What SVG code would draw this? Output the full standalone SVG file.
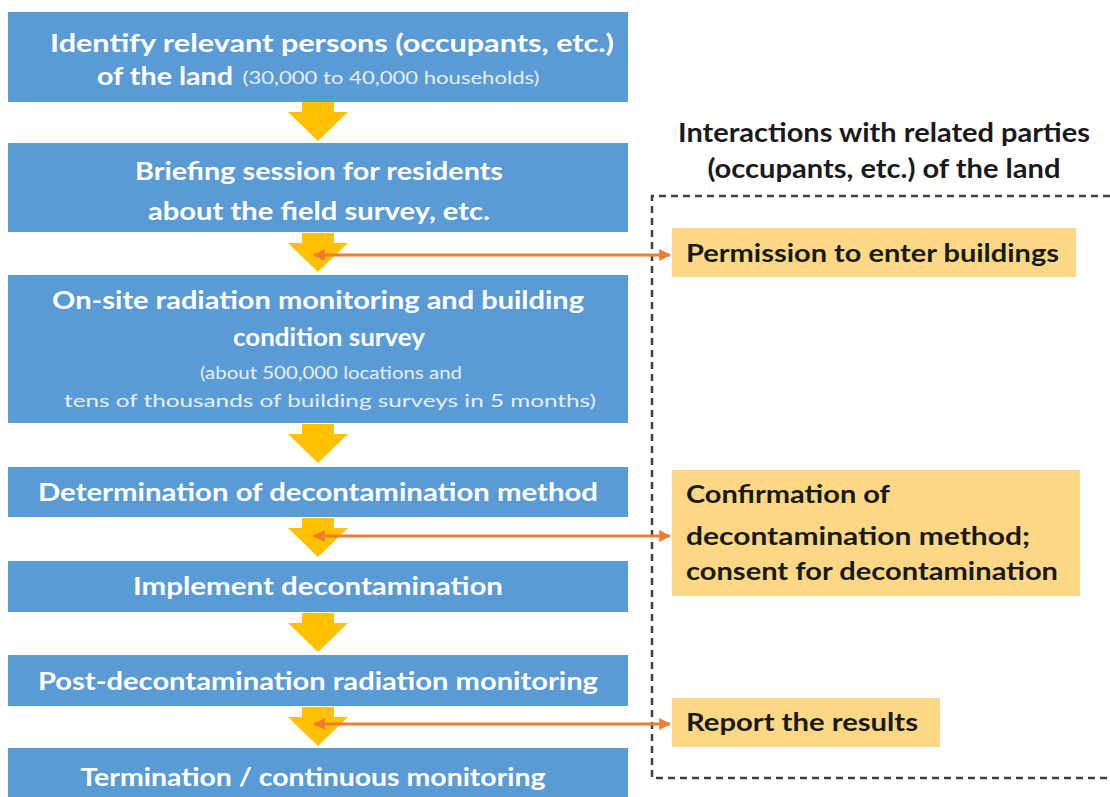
<svg xmlns="http://www.w3.org/2000/svg" width="1110" height="797" viewBox="0 0 1110 797">
  <style>
    .step { fill: #5B9BD5; }
    .step-text { font-family: Lato, "Open Sans", "Liberation Sans", sans-serif; font-weight: bold; font-size: 24px; fill: #FFFFFF; text-anchor: middle; }
    .step-note { font-family: Lato, "Open Sans", "Liberation Sans", sans-serif; font-size: 17px; fill: #E8EEF6; text-anchor: middle; }
    .flow { fill: #FFC000; }
    .party { fill: #FCD886; }
    .party-text { font-family: Lato, "Open Sans", "Liberation Sans", sans-serif; font-weight: bold; font-size: 24px; fill: #1A1A1A; }
    .title { font-family: Lato, "Open Sans", "Liberation Sans", sans-serif; font-weight: bold; font-size: 26px; fill: #1A1A1A; text-anchor: middle; }
    .link { stroke: #ED7D31; stroke-width: 3; fill: none; marker-start: url(#tip); marker-end: url(#tip); }
    .zone { fill: none; stroke: #404040; stroke-width: 2.5; stroke-dasharray: 7 5; }
  </style>
  <defs>
    <marker id="tip" viewBox="0 0 10 10" refX="9" refY="5" markerWidth="4" markerHeight="4" orient="auto-start-reverse" markerUnits="strokeWidth">
      <path d="M0,0 L10,5 L0,10 z" fill="#ED7D31"/>
    </marker>
    <path id="down" d="M-16,0 H16 V10 H30 L0,39 L-30,10 H-16 Z"/>
  </defs>

  <rect width="1110" height="797" fill="#FFFFFF"/>

  <!-- flow arrows between steps -->
  <g id="flow-arrows" class="flow">
    <use href="#down" x="318" y="102"/>
    <use href="#down" x="318" y="233"/>
    <use href="#down" x="318" y="424"/>
    <use href="#down" x="318" y="518"/>
    <use href="#down" x="318" y="613"/>
    <use href="#down" x="318" y="707"/>
  </g>

  <!-- dashed frame for interactions with related parties -->
  <path class="zone" d="M1110,196 H652 V778 H1110"/>

  <g id="title">
    <text class="title" x="884" y="142" textLength="412" lengthAdjust="spacingAndGlyphs">Interactions with related parties</text>
    <text class="title" x="884" y="178" textLength="353" lengthAdjust="spacingAndGlyphs">(occupants, etc.) of the land</text>
  </g>

  <!-- steps -->
  <g id="step1">
    <rect class="step" x="8" y="12" width="620" height="90"/>
    <text class="step-text" x="332" y="52" textLength="564" lengthAdjust="spacingAndGlyphs">Identify relevant persons (occupants, etc.)</text>
    <text class="step-text" x="165" y="85" textLength="136" lengthAdjust="spacingAndGlyphs">of the land</text>
    <text class="step-note" x="391" y="84" font-size="16" textLength="297" lengthAdjust="spacingAndGlyphs">(30,000 to 40,000 households)</text>
  </g>
  <g id="step2">
    <rect class="step" x="8" y="143" width="620" height="89"/>
    <text class="step-text" x="319" y="180" textLength="368" lengthAdjust="spacingAndGlyphs">Briefing session for residents</text>
    <text class="step-text" x="319" y="220" textLength="342" lengthAdjust="spacingAndGlyphs">about the field survey, etc.</text>
  </g>
  <g id="step3">
    <rect class="step" x="8" y="275" width="620" height="148"/>
    <text class="step-text" x="318" y="309" textLength="532" lengthAdjust="spacingAndGlyphs">On-site radiation monitoring and building</text>
    <text class="step-text" x="329" y="346" textLength="192" lengthAdjust="spacingAndGlyphs">condition survey</text>
    <text class="step-note" x="331" y="379" textLength="262" lengthAdjust="spacingAndGlyphs">(about 500,000 locations and</text>
    <text class="step-note" x="330" y="407" textLength="532" lengthAdjust="spacingAndGlyphs">tens of thousands of building surveys  in 5 months)</text>
  </g>
  <g id="step4">
    <rect class="step" x="8" y="467" width="620" height="50"/>
    <text class="step-text" x="318" y="501" textLength="560" lengthAdjust="spacingAndGlyphs">Determination of decontamination method</text>
  </g>
  <g id="step5">
    <rect class="step" x="8" y="561" width="620" height="51"/>
    <text class="step-text" x="318" y="595" textLength="370" lengthAdjust="spacingAndGlyphs">Implement decontamination</text>
  </g>
  <g id="step6">
    <rect class="step" x="8" y="655" width="620" height="51"/>
    <text class="step-text" x="318" y="690" textLength="560" lengthAdjust="spacingAndGlyphs">Post-decontamination radiation monitoring</text>
  </g>
  <g id="step7">
    <rect class="step" x="8" y="748" width="620" height="52"/>
    <text class="step-text" x="313" y="786" textLength="465" lengthAdjust="spacingAndGlyphs">Termination / continuous monitoring</text>
  </g>

  <!-- interactions -->
  <g id="permission">
    <rect class="party" x="672" y="228" width="404" height="49"/>
    <text class="party-text" x="686" y="262" textLength="373" lengthAdjust="spacingAndGlyphs">Permission to enter buildings</text>
  </g>
  <g id="confirmation">
    <rect class="party" x="672" y="470" width="408" height="126"/>
    <text class="party-text" x="686" y="503" textLength="204" lengthAdjust="spacingAndGlyphs">Confirmation of</text>
    <text class="party-text" x="686" y="545" textLength="344" lengthAdjust="spacingAndGlyphs">decontamination method;</text>
    <text class="party-text" x="686" y="580" textLength="372" lengthAdjust="spacingAndGlyphs">consent for decontamination</text>
  </g>
  <g id="report">
    <rect class="party" x="672" y="698" width="268" height="49"/>
    <text class="party-text" x="686" y="731" textLength="232" lengthAdjust="spacingAndGlyphs">Report the results</text>
  </g>

  <!-- connectors between flow and interactions -->
  <g id="connectors">
    <line class="link" x1="314" y1="255" x2="670" y2="255"/>
    <line class="link" x1="314" y1="536" x2="670" y2="536"/>
    <line class="link" x1="314" y1="724" x2="670" y2="724"/>
  </g>
</svg>
